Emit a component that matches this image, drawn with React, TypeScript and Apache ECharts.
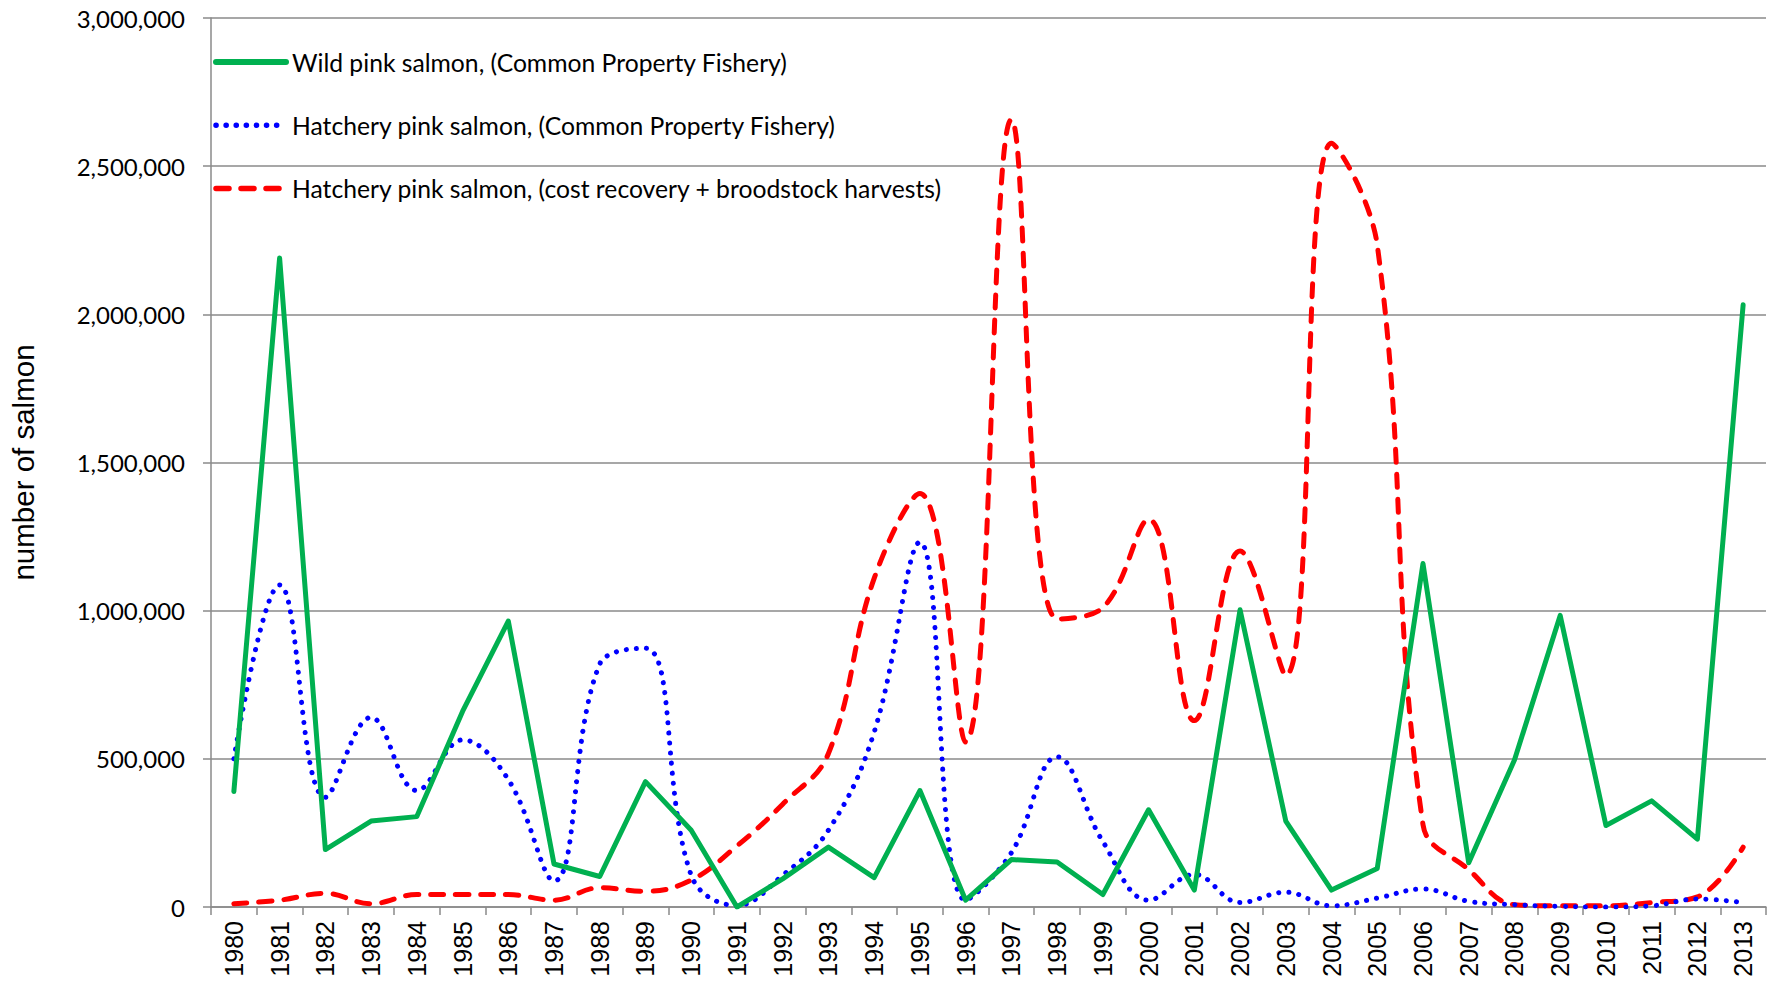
import React, { useEffect, useRef } from "react";
import * as echarts from "echarts";

const years = [
  "1980","1981","1982","1983","1984","1985","1986","1987","1988","1989",
  "1990","1991","1992","1993","1994","1995","1996","1997","1998","1999",
  "2000","2001","2002","2003","2004","2005","2006","2007","2008","2009",
  "2010","2011","2012","2013",
];

const wildCPF = [
  390000, 2190000, 194000, 290000, 305000, 660000, 965000, 145000, 103000, 423000,
  259000, 0, 95000, 202000, 99000, 393000, 23000, 160000, 152000, 42000,
  328000, 57000, 1003000, 290000, 57000, 130000, 1159000, 149000, 496000, 984000,
  275000, 358000, 229000, 2032000,
];

const hatcheryCPF = [
  500000, 1087000, 370000, 640000, 393000, 564000, 430000, 88000, 820000, 873000,
  107000, 5000, 107000, 259000, 590000, 1231000, 23000, 183000, 507000, 221000,
  23000, 110000, 15000, 50000, 4000, 30000, 61000, 19000, 8000, 2000,
  0, 4000, 27000, 15000,
];

const hatcheryCR = [
  11000, 23000, 46000, 11000, 42000, 42000, 42000, 23000, 65000, 53000,
  91000, 206000, 347000, 518000, 1109000, 1395000, 557000, 2657000, 972000, 1010000,
  1308000, 629000, 1201000, 782000, 2577000, 2234000, 278000, 126000, 8000, 4000,
  4000, 15000, 34000, 202000,
];

const seriesNames = [
  "Wild pink salmon, (Common Property Fishery)",
  "Hatchery pink salmon, (Common Property Fishery)",
  "Hatchery pink salmon, (cost recovery + broodstock harvests)",
];

const seriesColors = ["#00B050", "#0000FF", "#FF0000"];
const dashPatterns: (number[] | null)[] = [null, [0.1, 10], [13, 12]];
const seriesWidths = [5, 5, 5];

const yAxisTitle = "number of salmon";

export default function App() {
  const ref = useRef<HTMLDivElement>(null);
  useEffect(() => {
    document.body.style.margin = "0";
    const chart = echarts.init(ref.current!, null, { renderer: "svg" });
    const gridColor = "#8a8a8a";
    const legendX = 216;
    const legendTop = 62;
    const legendStep = 63.3;
    const legendGraphics: any[] = [];
    seriesNames.forEach((name, i) => {
      const y = legendTop + i * legendStep;
      legendGraphics.push({
        type: "line",
        shape: { x1: legendX, y1: y, x2: legendX + (i === 0 ? 70 : 66), y2: y },
        style: {
          stroke: seriesColors[i],
          lineWidth: i === 0 ? 6 : 5.5,
          lineCap: "round",
          lineDash: dashPatterns[i] || undefined,
        },
        z: 10,
      });
      legendGraphics.push({
        type: "text",
        x: legendX + 76,
        y: y,
        style: {
          text: name,
          fill: "#000",
          font: "24.7px Lato, sans-serif",
          textVerticalAlign: "middle",
          verticalAlign: "middle",
        },
        z: 10,
      });
    });
    const dataSets = [wildCPF, hatcheryCPF, hatcheryCR];
    chart.setOption({
      animation: false,
      backgroundColor: "#ffffff",
      grid: { left: 198, right: 7, top: 18, bottom: 74, containLabel: false },
      graphic: legendGraphics,
      xAxis: {
        type: "category",
        data: years,
        boundaryGap: true,
        axisLine: { lineStyle: { color: gridColor, width: 1.5 } },
        axisTick: { show: true, interval: 0, length: 8, lineStyle: { color: gridColor, width: 1.5 } },
        axisLabel: {
          interval: 0,
          rotate: 90,
          margin: 14,
          color: "#000",
          fontFamily: "Liberation Sans, Arial, sans-serif",
          fontSize: 25,
        },
      },
      yAxis: {
        type: "value",
        min: 0,
        max: 3000000,
        interval: 500000,
        name: yAxisTitle,
        nameLocation: "middle",
        nameGap: 173,
        nameTextStyle: { fontFamily: "Liberation Sans, Arial, sans-serif", fontSize: 29.5, color: "#000" },
        axisLine: { show: true, lineStyle: { color: gridColor, width: 1.5 } },
        axisTick: { show: true, length: 8, lineStyle: { color: gridColor, width: 1.5 } },
        splitLine: { show: true, lineStyle: { color: gridColor, width: 1.5 } },
        axisLabel: {
          margin: 26,
          color: "#000",
          fontFamily: "Lato, sans-serif",
          fontSize: 24,
          formatter: (v: number) => v.toLocaleString("en-US"),
        },
      },
      series: seriesNames.map((name, i) => ({
        name,
        type: "line",
        data: dataSets[i],
        symbol: "none",
        smooth: i === 0 ? false : 0.4,
        z: 3 - i,
        lineStyle: {
          color: seriesColors[i],
          width: seriesWidths[i],
          type: dashPatterns[i] || "solid",
          cap: "round",
          join: "round",
        },
        itemStyle: { color: seriesColors[i] },
      })),
    });
    return () => chart.dispose();
  }, []);
  return (
    <div
      ref={ref}
      style={{ position: "absolute", left: 0, top: 0, width: 1773, height: 981, background: "#fff" }}
    />
  );
}
